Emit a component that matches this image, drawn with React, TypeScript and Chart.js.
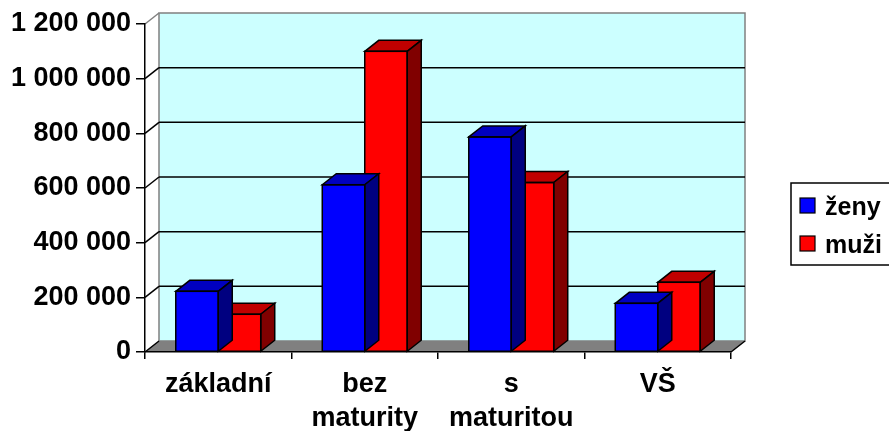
import React, { useEffect, useRef } from "react";
import { Chart, registerables } from "chart.js";

Chart.register(...registerables);

const categories: string[][] = [["základní"], ["bez", "maturity"], ["s", "maturitou"], ["VŠ"]];
const seriesNames = ["ženy", "muži"];
const zeny = [222000, 612000, 787000, 178000];
const muzi = [138000, 1100000, 620000, 255000];
const yTicks = [0, 200000, 400000, 600000, 800000, 1000000, 1200000];

const FRONT = ["#0000ff", "#ff0000"];
const TOP = ["#0000c0", "#c00000"];
const SIDE = ["#000080", "#800000"];
const DX = 14;
const DY = -11;
const FONT = "'Liberation Sans', Arial, sans-serif";

const fmt = (v: number) => String(v).replace(/\B(?=(\d{3})+(?!\d))/g, " ");

const poly = (ctx: CanvasRenderingContext2D, pts: number[][]) => {
  ctx.beginPath();
  ctx.moveTo(pts[0][0], pts[0][1]);
  for (let i = 1; i < pts.length; i++) ctx.lineTo(pts[i][0], pts[i][1]);
  ctx.closePath();
};

const walls = {
  id: "walls3d",
  beforeDraw(chart: any) {
    const { ctx, chartArea } = chart;
    const { left, right, top, bottom } = chartArea;
    const y = chart.scales.y;
    ctx.save();
    poly(ctx, [[left, top], [left + DX, top + DY], [left + DX, bottom + DY], [left, bottom]]);
    ctx.fillStyle = "#ffffff";
    ctx.fill();
    ctx.fillStyle = "#ccffff";
    ctx.fillRect(left + DX, top + DY, right - left, bottom - top);
    ctx.strokeStyle = "#808080";
    ctx.lineWidth = 1.5;
    ctx.strokeRect(left + DX, top + DY, right - left, bottom - top);
    ctx.beginPath();
    ctx.moveTo(left, top);
    ctx.lineTo(left + DX, top + DY);
    ctx.stroke();
    ctx.strokeStyle = "#000";
    ctx.lineWidth = 1.5;
    yTicks.forEach((t) => {
      const py = y.getPixelForValue(t);
      if (t !== 0 && t !== yTicks[yTicks.length - 1]) {
        ctx.beginPath();
        ctx.moveTo(left + DX, py + DY);
        ctx.lineTo(right + DX, py + DY);
        ctx.stroke();
        ctx.beginPath();
        ctx.moveTo(left, py);
        ctx.lineTo(left + DX, py + DY);
        ctx.stroke();
      }
    });
    poly(ctx, [[left, bottom], [left + DX, bottom + DY], [right + DX, bottom + DY], [right, bottom]]);
    ctx.fillStyle = "#808080";
    ctx.fill();
    ctx.strokeStyle = "#000";
    ctx.beginPath();
    ctx.moveTo(left, bottom);
    ctx.lineTo(left + DX, bottom + DY);
    ctx.moveTo(right, bottom);
    ctx.lineTo(right + DX, bottom + DY);
    ctx.stroke();
    ctx.restore();
  },
  afterDatasetDraw(chart: any, args: any) {
    const { ctx } = chart;
    const i = args.index;
    ctx.save();
    ctx.strokeStyle = "#000";
    ctx.lineWidth = 1.5;
    ctx.lineJoin = "miter";
    args.meta.data.forEach((el: any) => {
      const p = el.getProps(["x", "y", "base", "width"], true);
      const l = p.x - p.width / 2;
      const r = p.x + p.width / 2;
      poly(ctx, [[l, p.y], [l + DX, p.y + DY], [r + DX, p.y + DY], [r, p.y]]);
      ctx.fillStyle = TOP[i];
      ctx.fill();
      ctx.stroke();
      poly(ctx, [[r, p.y], [r + DX, p.y + DY], [r + DX, p.base + DY], [r, p.base]]);
      ctx.fillStyle = SIDE[i];
      ctx.fill();
      ctx.stroke();
      ctx.strokeRect(l, p.y, p.width, p.base - p.y);
    });
    ctx.restore();
  },
  afterDraw(chart: any) {
    const { ctx } = chart;
    ctx.save();
    ctx.strokeStyle = "#000";
    ctx.lineWidth = 1.5;
    ctx.fillStyle = "#fff";
    ctx.fillRect(791, 183, 130, 82);
    ctx.strokeRect(791, 183, 130, 82);
    ctx.font = `bold 25px ${FONT}`;
    ctx.textBaseline = "alphabetic";
    ctx.textAlign = "left";
    seriesNames.forEach((name, k) => {
      const by = 215 + k * 38;
      ctx.fillStyle = FRONT[k];
      ctx.fillRect(800, by - 17, 15, 15);
      ctx.lineWidth = 1.2;
      ctx.strokeRect(800, by - 17, 15, 15);
      ctx.fillStyle = "#000";
      ctx.fillText(name, 825, by);
    });
    ctx.restore();
  },
};

export default function App() {
  const ref = useRef<HTMLCanvasElement>(null);
  useEffect(() => {
    if (!ref.current) return;
    const chart = new Chart(ref.current, {
      type: "bar",
      data: {
        labels: categories as any,
        datasets: [
          { label: seriesNames[0], data: zeny, backgroundColor: FRONT[0], borderWidth: 0 },
          { label: seriesNames[1], data: muzi, backgroundColor: FRONT[1], borderWidth: 0 },
        ],
      },
      options: {
        animation: false,
        responsive: false,
        layout: { padding: { left: 0, top: 24, right: 158, bottom: 0 } },
        plugins: { legend: { display: false }, tooltip: { enabled: false } },
        datasets: { bar: { categoryPercentage: 0.58, barPercentage: 1 } },
        scales: {
          x: {
            afterFit: (s: any) => { s.height = 79; },
            grid: { offset: true, drawOnChartArea: false, drawTicks: true, tickLength: 7, color: "#000", lineWidth: 1.5 },
            border: { display: true, color: "#000", width: 1.5 },
            ticks: { color: "#000", padding: 8, font: { family: FONT, size: 27, weight: "bold", lineHeight: 1.28 }, maxRotation: 0, autoSkip: false },
          },
          y: {
            min: 0,
            max: 1200000,
            afterFit: (s: any) => { s.width = 145; },
            afterBuildTicks: (s: any) => { s.ticks = yTicks.map((v) => ({ value: v })); },
            grid: { drawOnChartArea: false, drawTicks: true, tickLength: 9, color: "#000", lineWidth: 1.5 },
            border: { display: true, color: "#000", width: 1.5 },
            ticks: { color: "#000", padding: 5, font: { family: FONT, size: 27, weight: "bold" }, callback: (v: any) => fmt(Number(v)) },
          },
        },
      } as any,
      plugins: [walls],
    });
    return () => chart.destroy();
  }, []);
  return (
    <div style={{ position: "fixed", left: 0, top: 0, width: 889, height: 431, background: "#fff" }}>
      <canvas ref={ref} width={889} height={431} />
    </div>
  );
}
